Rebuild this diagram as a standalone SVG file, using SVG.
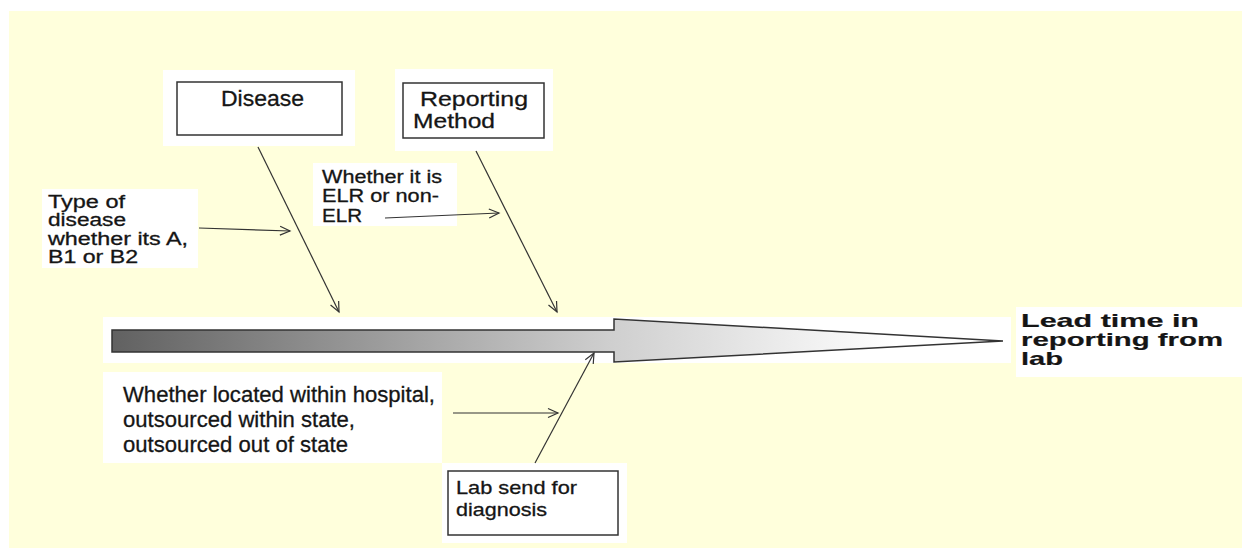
<svg xmlns="http://www.w3.org/2000/svg" width="1242" height="552" viewBox="0 0 1242 552">
  <defs>
    <linearGradient id="shaftFill" gradientUnits="userSpaceOnUse" x1="112" y1="0" x2="1003" y2="0">
      <stop offset="0" stop-color="#616161"/>
      <stop offset="0.56" stop-color="#cfcfcf"/>
      <stop offset="0.88" stop-color="#ffffff"/>
      <stop offset="1" stop-color="#ffffff"/>
    </linearGradient>
    <marker id="openHead" viewBox="-12 -7 14 14" refX="0" refY="0" markerWidth="14" markerHeight="14" markerUnits="userSpaceOnUse" orient="auto">
      <path d="M-10,-4.5 L0,0 L-10,4.5" fill="none" stroke="#333" stroke-width="1.2"/>
    </marker>
  </defs>
  <style>
    .pad { fill: #ffffff; }
    .frame { fill: #ffffff; stroke: #333333; stroke-width: 1.5; }
    .lbl { font-family: "Liberation Sans", Arial, sans-serif; fill: #151515; stroke: #151515; stroke-width: 0.3; }
    .bold { font-weight: bold; stroke-width: 0.2; }
    .link { stroke: #333333; stroke-width: 1.2; fill: none; marker-end: url(#openHead); }
  </style>

  <!-- page -->
  <rect x="0" y="0" width="1242" height="552" fill="#ffffff"/>
  <rect x="9" y="11" width="1233" height="537" fill="#ffffdc"/>

  <!-- main spine: shaft with arrowhead -->
  <g id="spine">
    <rect class="pad" x="103" y="317" width="908" height="46"/>
    <path d="M112,330 L614,330 L614,319 L1003,341 L614,362 L614,352 L112,352 Z" fill="url(#shaftFill)" stroke="#333333" stroke-width="1.5" stroke-linejoin="miter"/>
  </g>

  <g id="disease">
    <rect class="pad" x="163" y="70" width="192" height="76"/>
    <rect class="frame" x="177" y="82" width="165" height="53"/>
    <text class="lbl" x="221" y="106" font-size="22" textLength="83" lengthAdjust="spacingAndGlyphs">Disease</text>
  </g>

  <g id="reporting-method">
    <rect class="pad" x="395" y="69" width="158" height="82"/>
    <rect class="frame" x="403" y="83" width="141" height="55"/>
    <text class="lbl" font-size="21">
      <tspan x="420" y="106" textLength="108" lengthAdjust="spacingAndGlyphs">Reporting</tspan>
      <tspan x="413" y="128" textLength="82" lengthAdjust="spacingAndGlyphs">Method</tspan>
    </text>
  </g>

  <g id="disease-type">
    <rect class="pad" x="42" y="189" width="156" height="79"/>
    <text class="lbl" font-size="18">
      <tspan x="48" y="208" textLength="77" lengthAdjust="spacingAndGlyphs">Type of</tspan>
      <tspan x="48" y="226" textLength="78" lengthAdjust="spacingAndGlyphs">disease</tspan>
      <tspan x="48" y="245" textLength="140" lengthAdjust="spacingAndGlyphs">whether its A,</tspan>
      <tspan x="48" y="263" textLength="90" lengthAdjust="spacingAndGlyphs">B1 or B2</tspan>
    </text>
  </g>

  <g id="elr">
    <rect class="pad" x="313" y="163" width="144" height="63"/>
    <text class="lbl" font-size="18">
      <tspan x="322" y="183" textLength="120" lengthAdjust="spacingAndGlyphs">Whether it is</tspan>
      <tspan x="322" y="202" textLength="117" lengthAdjust="spacingAndGlyphs">ELR or non-</tspan>
      <tspan x="322" y="222" textLength="40" lengthAdjust="spacingAndGlyphs">ELR</tspan>
    </text>
  </g>

  <g id="lab-location">
    <rect class="pad" x="103" y="372" width="339" height="91"/>
    <text class="lbl" font-size="22">
      <tspan x="123" y="402" textLength="312" lengthAdjust="spacingAndGlyphs">Whether located within hospital,</tspan>
      <tspan x="123" y="427" textLength="232" lengthAdjust="spacingAndGlyphs">outsourced within state,</tspan>
      <tspan x="123" y="452" textLength="225" lengthAdjust="spacingAndGlyphs">outsourced out of state</tspan>
    </text>
  </g>

  <g id="lab-send">
    <rect class="pad" x="442" y="463" width="185" height="80"/>
    <rect class="frame" x="448" y="471" width="170" height="64"/>
    <text class="lbl" font-size="19">
      <tspan x="456" y="494" textLength="121" lengthAdjust="spacingAndGlyphs">Lab send for</tspan>
      <tspan x="456" y="516" textLength="91" lengthAdjust="spacingAndGlyphs">diagnosis</tspan>
    </text>
  </g>

  <g id="outcome">
    <rect class="pad" x="1016" y="307" width="226" height="70"/>
    <text class="lbl bold" font-size="19">
      <tspan x="1021" y="327" textLength="178" lengthAdjust="spacingAndGlyphs">Lead time in</tspan>
      <tspan x="1021" y="346" textLength="202" lengthAdjust="spacingAndGlyphs">reporting from</tspan>
      <tspan x="1021" y="365" textLength="42" lengthAdjust="spacingAndGlyphs">lab</tspan>
    </text>
  </g>

  <!-- connectors -->
  <g id="connectors">
    <line class="link" x1="258" y1="147" x2="339" y2="312"/>
    <line class="link" x1="476" y1="151" x2="557" y2="312"/>
    <line class="link" x1="199" y1="228" x2="290" y2="231"/>
    <line class="link" x1="385" y1="218" x2="499" y2="213"/>
    <line class="link" x1="453" y1="413" x2="558" y2="413"/>
    <line class="link" x1="535" y1="463" x2="594" y2="353"/>
  </g>
</svg>
